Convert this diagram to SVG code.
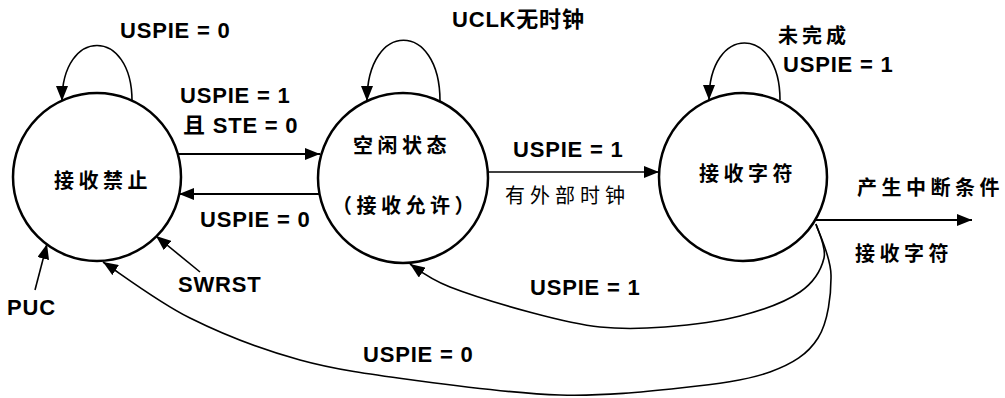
<svg xmlns="http://www.w3.org/2000/svg" width="1005" height="398" viewBox="0 0 1005 398">
<style>
.node{fill:#fff;stroke:#000;stroke-width:2.5}
.edge{fill:none;stroke:#000;stroke-width:1.6}
.en{font-family:"Liberation Sans","Noto Sans CJK SC",sans-serif;font-size:22px;font-weight:bold;letter-spacing:0.8px;fill:#000}
.cn{font-family:"Noto Sans CJK SC","Liberation Sans",sans-serif;font-size:20px;font-weight:bold;letter-spacing:4.5px;fill:#000}
</style>
<defs>
<marker id="ah" markerUnits="userSpaceOnUse" markerWidth="15" markerHeight="12" viewBox="0 0 15 12" refX="15" refY="6" orient="auto">
<path d="M0,0 L15,6 L0,12 z" fill="#000"/>
</marker>
</defs>
<rect width="1005" height="398" fill="#fff"/>
<g id="connectors">
<path class="edge" d="M132,101 C132,27 62,27 62,101" marker-end="url(#ah)"/>
<path class="edge" d="M440,101 C440,20 367,20 367,101" marker-end="url(#ah)"/>
<path class="edge" d="M780,100 C780,24 709,24 709,100" marker-end="url(#ah)"/>
<path class="edge" style="stroke-width:2" d="M178,154 L320,154" marker-end="url(#ah)"/>
<path class="edge" style="stroke-width:2" d="M320,194 L179,194" marker-end="url(#ah)"/>
<path class="edge" d="M488,172 L659,172" marker-end="url(#ah)"/>
<path class="edge" style="stroke-width:2" d="M815,220 L972,220" marker-end="url(#ah)"/>
<path class="edge" d="M816,224 C817.3,229.7 826.7,246.7 824,258 C821.3,269.3 814,282.3 800,292 C786,301.7 762.5,310.2 740,316 C717.5,321.8 688.3,325.2 665,327 C641.7,328.8 622,329.3 600,327 C578,324.7 558,319.7 533,313 C508,306.3 470.5,295 450,287 C429.5,279 416.7,268.7 410,264" marker-end="url(#ah)"/>
<path class="edge" d="M816,224 C818.5,232.5 830.7,256 831,275 C831.3,294 828.2,321.8 818,338 C807.8,354.2 793,363.7 770,372 C747,380.3 715,384.2 680,388 C645,391.8 603.3,396.2 560,395 C516.7,393.8 463.3,386.8 420,381 C376.7,375.2 338.3,370.5 300,360 C261.7,349.5 222.8,334.3 190,318 C157.2,301.7 117.5,271.3 103,262" marker-end="url(#ah)"/>
<path class="edge" d="M35,290 L47,244" marker-end="url(#ah)"/>
<path class="edge" d="M200,272 L156,236" marker-end="url(#ah)"/>
</g>
<g id="node-disabled">
<circle class="node" cx="97" cy="177" r="84"/>
<text class="cn" x="54" y="188">接收禁止</text>
</g>
<g id="node-idle">
<circle class="node" cx="403" cy="178" r="85"/>
<text class="cn" x="353" y="153">空闲状态</text>
<text class="cn" x="332" y="213">（接收允许）</text>
</g>
<g id="node-receive">
<circle class="node" cx="743" cy="177" r="84"/>
<text class="cn" x="699" y="181">接收字符</text>
</g>
<g id="labels">
<text class="en" x="120" y="38">USPIE = 0</text>
<text class="en" x="452" y="27">UCLK无时钟</text>
<text class="cn" x="778" y="43" style="letter-spacing:4px">未完成</text>
<text class="en" x="783" y="72">USPIE = 1</text>
<text class="en" x="180" y="103">USPIE = 1</text>
<text class="en" x="183" y="133">且 STE = 0</text>
<text class="en" x="200" y="227">USPIE = 0</text>
<text class="en" x="513" y="157">USPIE = 1</text>
<text class="cn" x="505" y="203" style="font-weight:normal;letter-spacing:5px">有外部时钟</text>
<text class="cn" x="857" y="195">产生中断条件</text>
<text class="cn" x="855" y="261">接收字符</text>
<text class="en" x="530" y="295">USPIE = 1</text>
<text class="en" x="363" y="362">USPIE = 0</text>
<text class="en" x="7" y="315">PUC</text>
<text class="en" x="178" y="292">SWRST</text>
</g>
</svg>
